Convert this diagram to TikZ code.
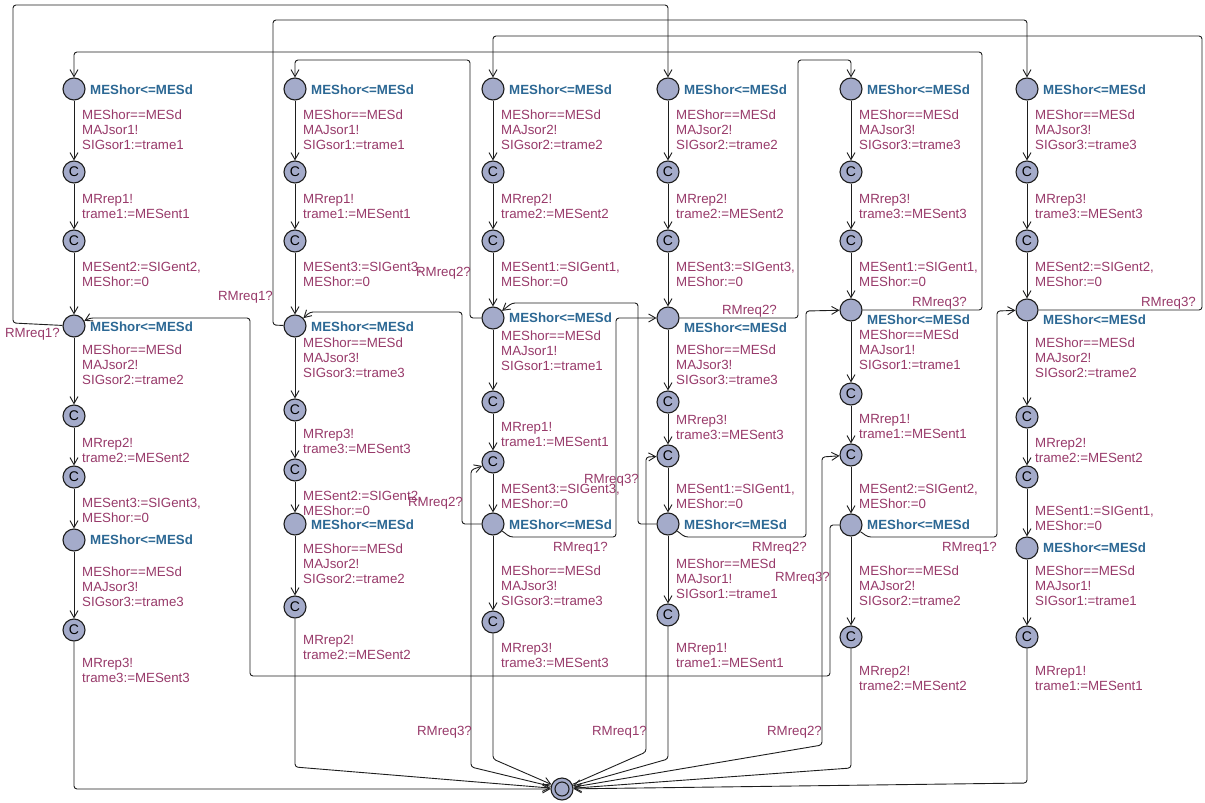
\documentclass[tikz,border=0pt]{standalone}
\usepackage{fontspec}
\setmainfont{Liberation Sans}
\usepackage{tikz}
\usetikzlibrary{arrows.meta}
\definecolor{lilac}{RGB}{164,171,202}
\definecolor{plum}{RGB}{152,58,106}
\definecolor{steel}{RGB}{44,104,148}
\definecolor{ink}{RGB}{30,30,30}
\tikzset{
  >={Straight Barb[length=7pt,width=8pt]},
  loc/.style={circle,draw=ink,fill=lilac,line width=1.1pt,minimum size=22pt,inner sep=0pt},
  com/.style={loc,font=\fontsize{14}{14}\selectfont},
  inv/.style={anchor=west,inner sep=0pt,text=steel,font=\fontsize{13.3}{15}\selectfont\bfseries},
  lab/.style={anchor=north west,yshift=4pt,inner sep=0pt,text=plum,align=left,
    font=\fontsize{13.3}{15}\selectfont},
  req/.style={anchor=east,inner sep=0pt,text=plum,font=\fontsize{13.3}{15}\selectfont},
  trans/.style={->,draw=ink,line width=0.9pt,rounded corners=3pt},
}

\begin{document}
\begin{tikzpicture}[x=1pt,y=-1pt]
  \useasboundingbox[fill=white] (0,0) rectangle (1205,803);
  \node[loc] (init) at (562,789) {};
  \draw[ink,line width=1.1pt] (init.center) circle (7pt);
  % one column per order of the three outputs
  \foreach \n/\x/\ia/\ib/\ic/\yB/\iB/\gB/\yE/\tE/\yF/\tF/\yD/\iD/\gD/\yG/\tG/\yI in {
    1/74/1/2/3/326/327/349/416/442/477/502/540/540/571/630/662/789,
    2/295/1/3/2/326/327/342/410/433/470/495/524/525/548/607/639/767,
    3/493/2/1/3/318/318/335/402/426/462/488/524/525/570/622/647/759,
    4/668/2/3/1/318/328/349/402/419/456/488/524/525/563/615/647/759,
    5/851/3/1/2/310/320/334/394/418/455/488/525/525/570/637/670/768,
    6/1027/3/2/1/310/320/342/417/442/477/510/548/548/570/637/670/783}
  {
    \node[loc] (A\n) at (\x,89) {};
    \node[inv] (iA\n) at (\x+16,90) {MEShor<=MESd};
    \node[lab] (gA\n) at (\x+8,114) {MEShor==MESd\\MAJsor\ia!\\SIGsor\ia:=trame\ia};
    \node[com] (a\n) at (\x,172) {C};
    \node[lab] (ra\n) at (\x+8,198) {MRrep\ia!\\trame\ia:=MESent\ia};
    \node[com] (b\n) at (\x,241) {C};
    \node[lab] (ub\n) at (\x+8,266) {MESent\ib:=SIGent\ib,\\MEShor:=0};
    \node[loc] (B\n) at (\x,\yB) {};
    \node[inv] (iB\n) at (\x+16,\iB) {MEShor<=MESd};
    \node[lab] (gB\n) at (\x+8,\gB) {MEShor==MESd\\MAJsor\ib!\\SIGsor\ib:=trame\ib};
    \node[com] (e\n) at (\x,\yE) {C};
    \node[lab] (re\n) at (\x+8,\tE) {MRrep\ib!\\trame\ib:=MESent\ib};
    \node[com] (f\n) at (\x,\yF) {C};
    \node[lab] (uf\n) at (\x+8,\tF) {MESent\ic:=SIGent\ic,\\MEShor:=0};
    \node[loc] (D\n) at (\x,\yD) {};
    \node[inv] (iD\n) at (\x+16,\iD) {MEShor<=MESd};
    \node[lab] (gD\n) at (\x+8,\gD) {MEShor==MESd\\MAJsor\ic!\\SIGsor\ic:=trame\ic};
    \node[com] (g\n) at (\x,\yG) {C};
    \node[lab] (rg\n) at (\x+8,\tG) {MRrep\ic!\\trame\ic:=MESent\ic};
    \foreach \u/\v in {A/a,a/b,b/B,B/e,e/f,f/D,D/g}
      \draw[trans] (\u\n) -- (\v\n);
    \draw[trans] (g\n) -- (\x,\yI) -- (init);
  }
  % requests that cut a column short
  \draw[trans] (B1) -- (13,323) -- (13,5) -- (668,5) -- (A4);
  \draw[trans] (B2) -- (273,325) -- (273,20) -- (1027,20) -- (A6);
  \draw[trans] (B3) -- (470,318) -- (470,60) -- (295,60) -- (A2);
  \draw[trans] (B4) -- (798,318) -- (798,60) -- (851,60) -- (A5);
  \draw[trans] (B5) -- (982,310) -- (982,52) -- (74,52) -- (A1);
  \draw[trans] (B6) -- (1202,310) -- (1202,36) -- (493,36) -- (A3);
  \draw[trans] (D3) -- (462,524) -- (462,312) -- (310,312) -- (B2);
  \draw[trans] (D3) -- (510,537) -- (616,537) -- (616,318) -- (B4);
  \draw[trans] (D4) -- (638,524) -- (638,303) -- (512,303) -- (B3);
  \draw[trans] (D4) -- (685,537) -- (806,537) -- (806,311) -- (B5);
  \draw[trans] (D5) -- (868,537) -- (997,537) -- (997,311) -- (B6);
  \draw[trans] (D5) -- (830,525) -- (830,676) -- (250,676) -- (250,318) -- (90,318) -- (B1);
  \draw[trans] (init) -- (471,767) -- (471,470) -- (f3);
  \draw[trans] (init) -- (646,752) -- (646,457) -- (f4);
  \draw[trans] (init) -- (822,745) -- (822,457) -- (f5);
  \foreach \px/\py/\m [count=\k] in {60/334/1,273/297/1,471/273/2,777/311/2,967/303/3,
      1196/303/3,463/503/2,608/548/1,639/480/3,807/548/2,997/548/1,830/578/3,
      472/732/3,647/732/1,822/732/2}
    \node[req] (rq\k) at (\px,\py) {RMreq\m?};
\end{tikzpicture}
\end{document}
